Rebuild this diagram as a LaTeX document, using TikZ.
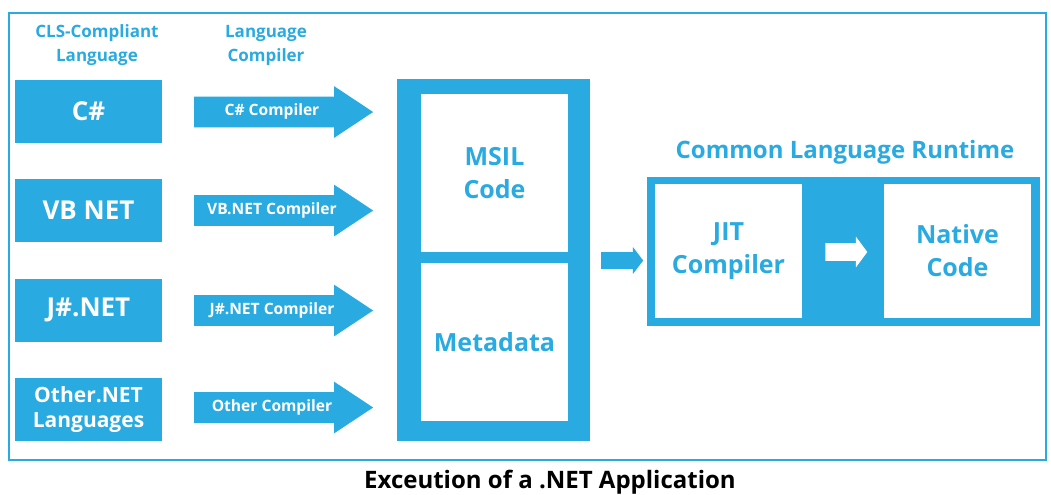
\documentclass[tikz,border=0pt]{standalone}
\usepackage{fontspec}
\setmainfont{Open Sans}
\usetikzlibrary{shapes.arrows}
\definecolor{netblue}{RGB}{41,170,225}
\begin{document}
\begin{tikzpicture}[x=0.5pt,y=-0.5pt,
    head/.style={text=netblue,font=\bfseries\fontsize{8.5}{12}\selectfont,align=center},
    langbox/.style={fill=netblue,text=white,minimum width=73.5pt,minimum height=31.5pt,inner sep=0pt,
      font=\bfseries\fontsize{13}{15}\selectfont,align=center},
    comparrow/.style={single arrow,fill=netblue,text=white,font=\bfseries\fontsize{7.8}{9}\selectfont,
      text height=5pt,text depth=1.5pt,inner ysep=4.25pt,inner xsep=0pt,
      single arrow head extend=5.25pt,single arrow tip angle=67,minimum height=89.5pt},
    whitebox/.style={fill=white,text=netblue,inner sep=0pt,font=\bfseries\fontsize{12.5}{16.5}\selectfont,align=center},
    smallarrow/.style={single arrow,inner sep=0pt,minimum height=21pt}]
  \useasboundingbox (0,0) rectangle (1051,494);
  \draw[netblue,line width=1.25pt] (9,13) rectangle (1046,460);
  \node[head] (h1) at (97,45) {CLS-Compliant\\Language};
  \node[head] (h2) at (266,45) {Language\\Compiler};
  \node[langbox] (cs) at (88.5,111.5) {C\#};
  \node[langbox] (vb) at (88.5,210.5) {VB NET};
  \node[langbox] (js) at (88.5,310) {J\#.NET};
  \node[langbox,font=\bfseries\fontsize{10.5}{12.5}\selectfont] (other) at (88.5,409.5) {Other.NET\\Languages};
  \node[comparrow] (csc) at (272,112) {C\# Compiler};
  \node[comparrow] (vbc) at (272,210.5) {VB.NET Compiler};
  \node[comparrow] (jsc) at (272,310.5) {J\#.NET Compiler};
  \node[comparrow] (otherc) at (272,407.5) {Other Compiler};
  \node[fill=netblue,minimum width=96.5pt,minimum height=181pt,inner sep=0pt] (il) at (493.5,260) {};
  \node[whitebox,minimum width=73.5pt,minimum height=79pt] (msil) at (494.5,173) {MSIL\\Code};
  \node[whitebox,minimum width=73.5pt,minimum height=79pt] (meta) at (494.5,342) {Metadata};
  \node[smallarrow,fill=netblue,inner ysep=4pt,single arrow head extend=2.5pt,single arrow tip angle=105] (toclr) at (619,260.5) {};
  \node[text=netblue,font=\bfseries\fontsize{12}{14}\selectfont] (clrtitle) at (845,152) {Common Language Runtime};
  \node[fill=netblue,minimum width=196.5pt,minimum height=74.5pt,inner sep=0pt] (clr) at (843.5,251.5) {};
  \node[whitebox,minimum width=73.5pt,minimum height=67pt] (jit) at (728.5,251) {JIT\\Compiler};
  \node[whitebox,minimum width=73.5pt,minimum height=67pt] (native) at (957.5,251) {Native\\Code};
  \node[smallarrow,fill=white,inner ysep=4.25pt,single arrow head extend=3.25pt,single arrow tip angle=107] (jitnat) at (843,252) {};
  \node[font=\bfseries\fontsize{12}{14}\selectfont] (caption) at (550,482) {Exceution of a .NET Application};
\end{tikzpicture}
\end{document}
